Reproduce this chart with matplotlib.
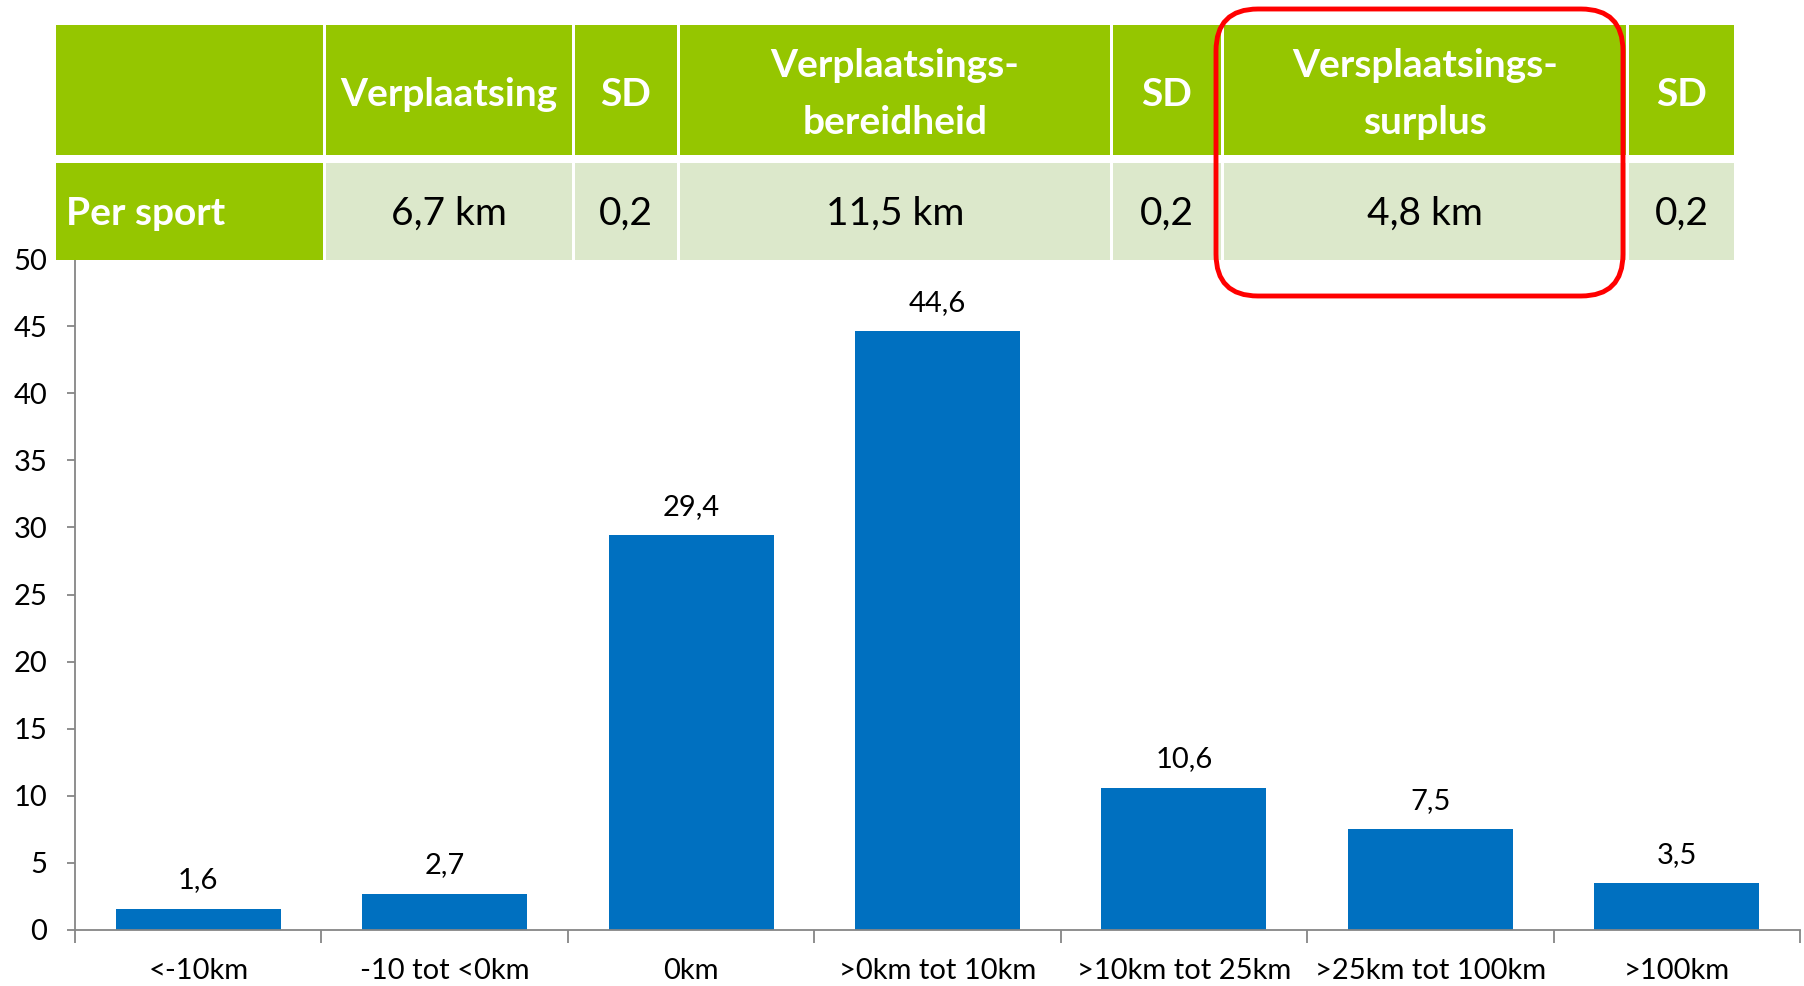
import matplotlib
matplotlib.use("Agg")
import matplotlib.pyplot as plt
from matplotlib.patches import Rectangle, FancyBboxPatch

plt.rcParams['font.family'] = ["Lato", "DejaVu Sans"]

# chart data
categories = ["<-10km", "-10 tot <0km", "0km", ">0km tot 10km",
              ">10km tot 25km", ">25km tot 100km", ">100km"]
values = [1.6, 2.7, 29.4, 44.6, 10.6, 7.5, 3.5]

# table above the chart
header = ["", "Verplaatsing", "SD", "Verplaatsings-\nbereidheid", "SD",
          "Versplaatsings-\nsurplus", "SD"]
row_label = "Per sport"
row_values = ["6,7 km", "0,2", "11,5 km", "0,2", "4,8 km", "0,2"]

W, H = 1804, 986
fig = plt.figure(figsize=(W / 100, H / 100), dpi=100)

bar_col = "#0070C0"
green = "#95C600"
light = "#DCE8CB"
axis_col = "#868686"

# bar chart
ax = fig.add_axes([75 / W, (H - 930) / H, (1800 - 75) / W, (930 - 259) / H])
x = list(range(len(categories)))
bars = ax.bar(x, values, width=0.67, color=bar_col, zorder=2)
ax.bar_label(bars, labels=[f"{v:.1f}".replace(".", ",") for v in values],
             padding=11, fontsize=21)
ax.set_xlim(-0.5, len(categories) - 0.5)
ax.set_ylim(0, 50)
ax.set_yticks(range(0, 51, 5))
ax.set_xticks(x)
ax.set_xticklabels(categories, fontsize=21)
ax.set_xticks([i - 0.5 for i in range(len(categories) + 1)], minor=True)
ax.tick_params(axis="x", which="major", length=0, pad=20)
ax.tick_params(axis="x", which="minor", length=9, color=axis_col, width=1.3)
ax.tick_params(axis="y", labelsize=21, length=6, color=axis_col, width=1.3, pad=14)
for s in ["top", "right"]:
    ax.spines[s].set_visible(False)
for s in ["left", "bottom"]:
    ax.spines[s].set_color(axis_col)
    ax.spines[s].set_linewidth(1.3)
ax.patch.set_alpha(0)

# table overlay in pixel coordinates
ov = fig.add_axes([0, 0, 1, 1], zorder=5)
ov.set_xlim(0, W)
ov.set_ylim(H, 0)
ov.axis("off")
ov.patch.set_alpha(0)

edges = [56, 323, 572, 677, 1110, 1221, 1626, 1734]
row1 = (25, 155)
row2 = (163, 260)
gap = 3
for i in range(len(edges) - 1):
    x0 = edges[i] + (gap if i > 0 else 0)
    x1 = edges[i + 1]
    ov.add_patch(Rectangle((x0, row1[0]), x1 - x0, row1[1] - row1[0], color=green, lw=0))
    c2 = green if i == 0 else light
    ov.add_patch(Rectangle((x0, row2[0]), x1 - x0, row2[1] - row2[0], color=c2, lw=0))
    cx = (x0 + x1) / 2
    ov.text(cx, sum(row1) / 2 + 4, header[i], color="white", fontsize=28, fontweight="bold",
            ha="center", va="center", linespacing=1.75)
    if i == 0:
        ov.text(x0 + 10, sum(row2) / 2 + 2, row_label, color="white", fontsize=28,
                fontweight="bold", ha="left", va="center")
    else:
        ov.text(cx, sum(row2) / 2 + 2, row_values[i - 1], color="black", fontsize=28,
                ha="center", va="center")

# red highlight around surplus column
ov.add_patch(FancyBboxPatch((1216, 9), 1623 - 1216, 296 - 9,
                            boxstyle="round,pad=0,rounding_size=42",
                            fill=False, ec="#FF0000", lw=3.5))

fig.savefig("out.png", dpi=100)
